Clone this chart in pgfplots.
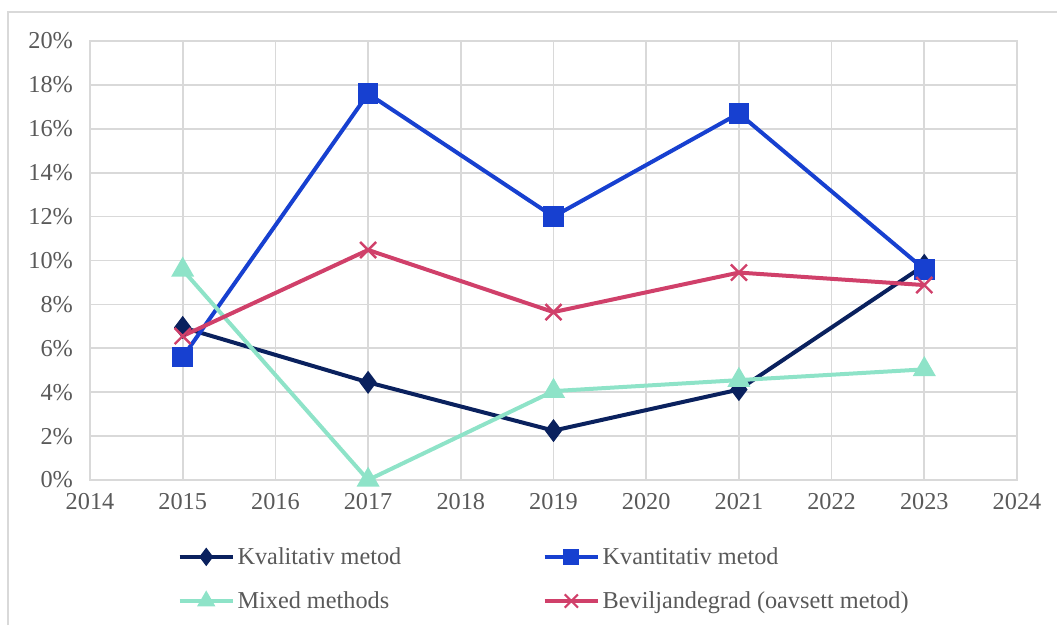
\documentclass[border=0pt]{standalone}
\usepackage{pgfplots}
\pgfplotsset{compat=1.18}
\usepackage{fontspec}
\setmainfont{Liberation Serif}
\definecolor{gridc}{HTML}{D9D9D9}
\definecolor{txt}{HTML}{595959}
\definecolor{kval}{HTML}{0A215E}
\definecolor{kvant}{HTML}{1740D0}
\definecolor{mixed}{HTML}{8EE3C8}
\definecolor{bev}{HTML}{D0406A}
\begin{document}
\begin{tikzpicture}
\path[use as bounding box] (0,0) rectangle (792.75pt,468.75pt);
\draw[gridc, line width=1.2pt] (6pt,0) -- (6pt,459.75pt) -- (792.75pt,459.75pt);
\begin{axis}[
  at={(67.5pt,108.75pt)}, anchor=south west,
  scale only axis, width=695.25pt, height=329.25pt,
  xmin=2014, xmax=2024, ymin=0, ymax=20,
  xtick={2014,2015,...,2024}, ytick={0,2,...,20},
  xticklabel style={/pgf/number format/1000 sep={}},
  yticklabel={\pgfmathprintnumber{\tick}\%},
  /pgf/number format/assume math mode=true,
  tick label style={font=\fontsize{18.2}{21}\selectfont, text=txt},
  major tick length=0pt,
  xticklabel shift=5pt, yticklabel shift=8pt,
  grid=major, grid style={gridc, line width=1.3pt},
  axis line style={gridc, line width=1.3pt},
  line width=3pt,
  legend columns=2,
  legend style={draw=none, fill=none, at={(rel axis cs:0.088,-0.137)}, anchor=north west,
    font=\fontsize{18.2}{21}\selectfont, text=txt, row sep=15pt,
    /tikz/every even column/.append style={column sep=104pt}},
  legend cell align=left,
]
\addplot[kval, line width=3pt, mark=diamond*, mark size=6.2pt,
  legend image code/.code={\draw[kval,line width=3pt] (0pt,0pt) -- (40pt,0pt); \path[kval] plot[mark=diamond*, mark size=4.5pt] coordinates {(20pt,0pt)};}] coordinates {
(2015,6.95) (2017,4.45) (2019,2.25) (2021,4.12) (2023,9.78)};
\addlegendentry{Kvalitativ metod}
\addplot[kvant, line width=3pt, mark=square*, mark size=6.2pt,
  legend image code/.code={\draw[kvant,line width=3pt] (0pt,0pt) -- (40pt,0pt); \path[kvant] plot[mark=square*, mark size=4.5pt] coordinates {(20pt,0pt)};}] coordinates {
(2015,5.6) (2017,17.6) (2019,12.0) (2021,16.7) (2023,9.6)};
\addlegendentry{Kvantitativ metod}
\addplot[mixed, line width=3pt, mark=triangle*, mark size=7pt,
  legend image code/.code={\draw[mixed,line width=3pt] (0pt,0pt) -- (40pt,0pt); \path[mixed] plot[mark=triangle*, mark size=5pt] coordinates {(20pt,0pt)};}] coordinates {
(2015,9.57) (2017,0.0) (2019,4.05) (2021,4.55) (2023,5.04)};
\addlegendentry{Mixed methods}
\addplot[bev, line width=3pt, mark=x, mark size=8.5pt, mark options={line width=1.8pt},
  legend image code/.code={\draw[bev,line width=3pt] (0pt,0pt) -- (40pt,0pt); \path[bev] plot[mark=x, mark size=7pt, mark options={line width=1.6pt}] coordinates {(20pt,0pt)};}] coordinates {
(2015,6.56) (2017,10.48) (2019,7.65) (2021,9.45) (2023,8.88)};
\addlegendentry{Beviljandegrad (oavsett metod)}
\end{axis}
\end{tikzpicture}
\end{document}
